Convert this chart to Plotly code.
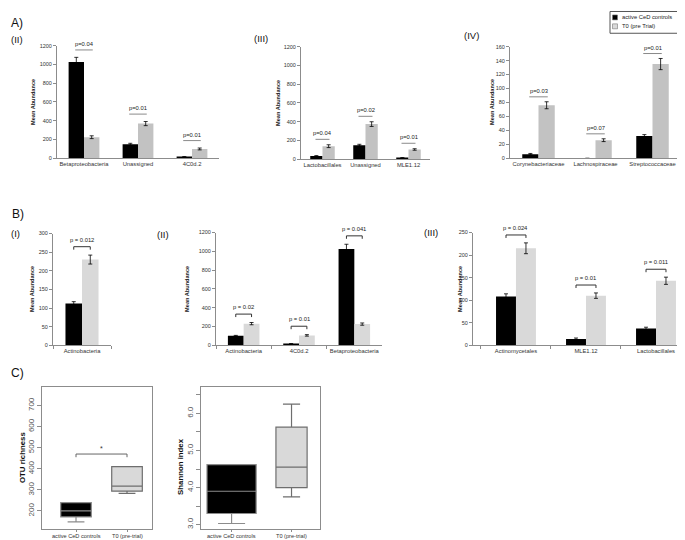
import plotly.graph_objects as go

W, H = 685, 540

# ---------------- DATA ----------------
A2_cats = ["Betaproteobacteria", "Unassigned", "4C0d.2"]
A2_ctrl = [1025, 150, 15]
A2_ctrl_err = [50, 10, 4]
A2_t0 = [225, 370, 100]
A2_t0_err = [15, 22, 10]
A2_p = ["p=0.04", "p=0.01", "p=0.01"]

A3_cats = ["Lactobacillales", "Unassigned", "MLE1.12"]
A3_ctrl = [35, 150, 15]
A3_ctrl_err = [5, 10, 4]
A3_t0 = [140, 375, 105]
A3_t0_err = [15, 25, 8]
A3_p = ["p=0.04", "p=0.02", "p=0.01"]

A4_cats = ["Corynebacteriaceae", "Lachnospiraceae", "Streptococcaceae"]
A4_ctrl = [6, 0, 32]
A4_ctrl_err = [1, 0, 2]
A4_t0 = [76, 26, 135]
A4_t0_err = [5, 2, 8]
A4_p = ["p=0.03", "p=0.07", "p=0.01"]

B1_cats = ["Actinobacteria"]
B1_ctrl = [112]
B1_ctrl_err = [5]
B1_t0 = [230]
B1_t0_err = [12]
B1_p = ["p = 0.012"]

B2_cats = ["Actinobacteria", "4C0d.2", "Betaproteobacteria"]
B2_ctrl = [100, 15, 1025]
B2_ctrl_err = [5, 3, 50]
B2_t0 = [230, 105, 225]
B2_t0_err = [12, 8, 12]
B2_p = ["p = 0.02", "p = 0.01", "p = 0.041"]

B3_cats = ["Actinomycetales", "MLE1.12", "Lactobacillales"]
B3_ctrl = [108, 14, 37]
B3_ctrl_err = [6, 2, 3]
B3_t0 = [215, 110, 143]
B3_t0_err = [12, 6, 8]
B3_p = ["p = 0.024", "p = 0.01", "p = 0.011"]

groups = ["active CeD controls", "T0 (pre-trial)"]
otu_q1 = [172, 294]
otu_med = [200, 318]
otu_q3 = [240, 410]
otu_lo = [148, 283]
otu_hi = [240, 410]

sh_q1 = [3.30, 4.00]
sh_med = [3.90, 4.55]
sh_q3 = [4.62, 5.63]
sh_lo = [3.03, 3.75]
sh_hi = [4.62, 6.25]

legend_labels = ["active CeD controls", "T0 (pre Trial)"]

# ---------------- LAYOUT HELPERS ----------------
FONT = "Liberation Sans"
BLACK = "#000000"
GRAY_A = "#c2c2c2"
GRAY_B = "#d9d9d9"
BARGAP = 0.43
OFF = (1 - BARGAP) / 4.0  # centre offset of each bar within a group


def xd(x0, x1):
    return [x0 / W, x1 / W]


def yd(top, bottom):
    return [1 - bottom / H, 1 - top / H]


fig = go.Figure()
shapes = []
annotations = []

# panel specs: (cats, ctrl, ctrl_err, t0, t0_err, p, xpx, ypx, ymax, dtick, gray, offpx, bracket, ticks, xrange)
panels = [
    (A2_cats, A2_ctrl, A2_ctrl_err, A2_t0, A2_t0_err, A2_p, (49, 211), (35, 149), 1200, 200, GRAY_A, 7.5, False, False, None),
    (A3_cats, A3_ctrl, A3_ctrl_err, A3_t0, A3_t0_err, A3_p, (293, 422), (36, 150), 1200, 200, GRAY_A, 5.5, False, False, None),
    (A4_cats, A4_ctrl, A4_ctrl_err, A4_t0, A4_t0_err, A4_p, (502, 673), (36, 149), 160, 20, GRAY_A, 5.0, False, False, None),
    (B1_cats, B1_ctrl, B1_ctrl_err, B1_t0, B1_t0_err, B1_p, (45, 103), (225, 338), 300, 50, GRAY_B, 8.5, True, True, None),
    (B2_cats, B2_ctrl, B2_ctrl_err, B2_t0, B2_t0_err, B2_p, (208, 374), (224, 338), 1200, 200, GRAY_B, 8.5, True, True, None),
    (B3_cats, B3_ctrl, B3_ctrl_err, B3_t0, B3_t0_err, B3_p, (465, 683), (224, 338), 250, 50, GRAY_B, 8.0, True, True, [-0.614, 2.5]),
]

layout_axes = {}
for k, (cats, c, ce, t, te, pl, xpx, ypx, ymax, dt, gcol, offpx, bracket, xt, xr) in enumerate(panels):
    n = k + 1
    xa = "x" if n == 1 else f"x{n}"
    ya = "y" if n == 1 else f"y{n}"
    fig.add_trace(go.Bar(x=cats, y=c, marker=dict(color=BLACK, line=dict(width=0)),
                         error_y=dict(type="data", array=ce, color="black", thickness=0.8, width=2),
                         xaxis=xa, yaxis=ya, showlegend=False))
    fig.add_trace(go.Bar(x=cats, y=t, marker=dict(color=gcol, line=dict(width=0)),
                         error_y=dict(type="data", array=te, color="black", thickness=0.8, width=2),
                         xaxis=xa, yaxis=ya, showlegend=False))
    hpx = ypx[1] - ypx[0]
    upp = ymax / hpx  # data units per pixel
    for i in range(len(cats)):
        top = max(c[i] + ce[i], t[i] + te[i])
        yl = top + offpx * upp
        x0, x1 = i - OFF, i + OFF
        if bracket:
            tk = 3 * upp
            shapes.append(dict(type="path", xref=xa, yref=ya,
                               path=f"M {x0},{yl - tk} L {x0},{yl} L {x1},{yl} L {x1},{yl - tk}",
                               line=dict(color="#333333", width=1)))
            annotations.append(dict(x=i, y=yl, xref=xa, yref=ya, text=pl[i], showarrow=False,
                                    yanchor="bottom", yshift=2, font=dict(family=FONT, size=5.8, color="#222")))
        else:
            shapes.append(dict(type="line", xref=xa, yref=ya, x0=x0 - 0.02, x1=x1 + 0.02, y0=yl, y1=yl,
                               line=dict(color="#8a8a8a", width=1)))
            annotations.append(dict(x=i, y=yl, xref=xa, yref=ya, text=pl[i], showarrow=False,
                                    yanchor="bottom", yshift=1, font=dict(family=FONT, size=5.8, color="#222")))
    xkey = "xaxis" if n == 1 else f"xaxis{n}"
    ykey = "yaxis" if n == 1 else f"yaxis{n}"
    layout_axes[xkey] = dict(domain=xd(*xpx), anchor=ya, type="category",
                             range=xr if xr else [-0.5, len(cats) - 0.5],
                             showline=True, linecolor="#8c8c8c", linewidth=1, showgrid=False, zeroline=False,
                             ticks="outside" if xt else "", tickson="boundaries", ticklen=3, tickcolor="#8c8c8c",
                             tickfont=dict(family=FONT, size=5.8, color="#333"), fixedrange=True)
    layout_axes[ykey] = dict(domain=yd(*ypx), anchor=xa, range=[0, ymax], dtick=dt, tick0=0,
                             showline=True, linecolor="#8c8c8c", linewidth=1, showgrid=False, zeroline=False,
                             ticks="outside", ticklen=3, tickcolor="#8c8c8c",
                             tickfont=dict(family=FONT, size=5.5, color="#333"), fixedrange=True)

# ---------------- BOX PLOTS (C) ----------------
C_TOP, C_BOT = 380, 523.5
box_specs = [
    (7, otu_q1, otu_med, otu_q3, otu_lo, otu_hi, (34, 144), [116, 789], [0.333, 2.49], [0.6, 0.6]),
    (8, sh_q1, sh_med, sh_q3, sh_lo, sh_hi, (193, 312), [2.89, 6.72], [0.49, 2.475], [0.82, 0.52]),
]
box_fill = [BLACK, GRAY_B]
box_line = ["#8c8c8c", "#6e6e6e"]
for (n, q1, md, q3, lo, hi, xpx, yr, xr, wd) in box_specs:
    xa, ya = f"x{n}", f"y{n}"
    for g in range(2):
        fig.add_trace(go.Box(x=[g + 1], q1=[q1[g]], median=[md[g]], q3=[q3[g]],
                             lowerfence=[lo[g]], upperfence=[hi[g]], width=wd[g],
                             fillcolor=box_fill[g], line=dict(color=box_line[g], width=1.2),
                             whiskerwidth=0.55, boxpoints=False, xaxis=xa, yaxis=ya,
                             showlegend=False, hoverinfo="skip"))
        annotations.append(dict(x=g + 1, xref=xa, y=1 - 531 / H, yref="paper", text=groups[g], showarrow=False,
                                yanchor="middle", borderpad=0, font=dict(family=FONT, size=5.6, color="#333")))
    layout_axes[f"xaxis{n}"] = dict(domain=xd(*xpx), anchor=ya, range=xr, tickvals=[1, 2],
                                    showticklabels=False,
                                    showline=True, mirror=True, linecolor="#8c8c8c", linewidth=1,
                                    showgrid=False, zeroline=False, ticks="outside", ticklen=2.5,
                                    tickcolor="#8c8c8c", fixedrange=True)
    layout_axes[f"yaxis{n}"] = dict(domain=yd(C_TOP, C_BOT), anchor=xa, range=yr, tickangle=-90,
                                    showline=True, mirror=True, linecolor="#8c8c8c", linewidth=1,
                                    showgrid=False, zeroline=False, ticks="outside", ticklen=4,
                                    tickcolor="#8c8c8c", tickfont=dict(family=FONT, size=8, color="#555"),
                                    fixedrange=True)
layout_axes["yaxis7"].update(tickvals=[200, 300, 400, 500, 600, 700])
layout_axes["yaxis8"].update(tickvals=[3, 4, 5, 6], ticktext=["3.0", "4.0", "5.0", "6.0"],
                             minor=dict(dtick=0.5, tick0=0, ticks="outside", ticklen=4, tickcolor="#8c8c8c"))

# significance bracket in C1
yb = 470
tkb = 15
shapes.append(dict(type="path", xref="x7", yref="y7",
                   path=f"M 1,{yb - tkb} L 1,{yb} L 2,{yb} L 2,{yb - tkb}",
                   line=dict(color="#666", width=1)))
annotations.append(dict(x=1.5, y=yb, xref="x7", yref="y7", text="*", showarrow=False, yanchor="bottom",
                        yshift=0, font=dict(family=FONT, size=7, color="#333")))

# ---------------- TEXT LABELS ----------------
def pa(x, y, text, size, bold=False, angle=0, color="#111"):
    annotations.append(dict(x=x / W, y=1 - y / H, xref="paper", yref="paper", text=f"<b>{text}</b>" if bold else text,
                            showarrow=False, textangle=angle, xanchor="center", yanchor="middle",
                            font=dict(family=FONT, size=size, color=color)))

pa(9, 12, "A)", 12)
pa(9, 29, "(II)", 9.5)
pa(253, 28, "(III)", 9.5)
pa(463, 25, "(IV)", 9.5)
pa(10, 205, "B)", 12)
pa(7, 225, "(I)", 9.5)
pa(155, 226, "(II)", 9.5)
pa(423, 224, "(III)", 9.5)
pa(9, 366, "C)", 12)

for (x, y) in [(25, 92), (270, 93), (484, 92), (24, 281), (179, 281), (452, 281)]:
    pa(x, y, "Mean Abundance", 5.6, bold=True, angle=-90, color="#222")
pa(15, 452, "OTU richness", 7.8, bold=True, angle=-90, color="#111")
pa(173, 461, "Shannon index", 7.8, bold=True, angle=-90, color="#111")

# ---------------- LEGEND (drawn) ----------------
shapes.append(dict(type="rect", xref="paper", yref="paper", x0=602 / W, x1=684 / W, y0=1 - 22.5 / H, y1=1 - 0.5 / H,
                   line=dict(color="#555", width=1), fillcolor="white"))
leg_cols = [BLACK, GRAY_B]
for j, lab in enumerate(legend_labels):
    yc = 6.5 + 9 * j
    shapes.append(dict(type="rect", xref="paper", yref="paper", x0=604.5 / W, x1=609.5 / W,
                       y0=1 - (yc + 2.5) / H, y1=1 - (yc - 2.5) / H,
                       line=dict(color="#777", width=0.6), fillcolor=leg_cols[j]))
    annotations.append(dict(x=612 / W, y=1 - yc / H, xref="paper", yref="paper", text=lab, showarrow=False,
                            xanchor="left", yanchor="middle", font=dict(family=FONT, size=5.8, color="#222")))

fig.update_layout(width=W, height=H, margin=dict(l=0, r=0, t=0, b=0),
                  paper_bgcolor="white", plot_bgcolor="white",
                  barmode="group", bargap=BARGAP, bargroupgap=0, boxmode="overlay",
                  shapes=shapes, annotations=annotations, showlegend=False, **layout_axes)

fig.write_html("out.html")
